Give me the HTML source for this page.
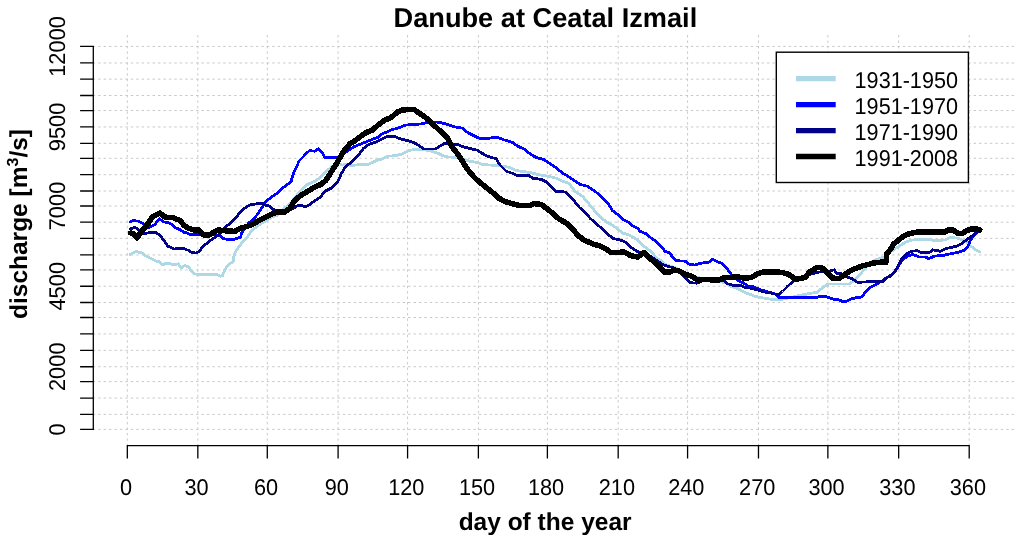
<!DOCTYPE html>
<html><head><meta charset="utf-8"><style>
html,body{margin:0;padding:0;background:#fff;}
svg{display:block;will-change:transform;}
.t{font-family:"Liberation Sans",sans-serif;font-size:22px;fill:#000;text-rendering:geometricPrecision;}
.b{font-family:"Liberation Sans",sans-serif;font-weight:bold;fill:#000;text-rendering:geometricPrecision;}
</style></head><body>
<svg width="1024" height="541" viewBox="0 0 1024 541">
<path d="M92.76 429.36H1015.5 M92.76 414.39H1015.5 M92.76 398.05H1015.5 M92.76 381.60H1015.5 M92.76 366.74H1015.5 M92.76 350.33H1015.5 M92.76 333.94H1015.5 M92.76 317.52H1015.5 M92.76 302.50H1015.5 M92.76 286.26H1015.5 M92.76 269.96H1015.5 M92.76 254.95H1015.5 M92.76 238.40H1015.5 M92.76 222.20H1015.5 M92.76 206.00H1015.5 M92.76 191.00H1015.5 M92.76 174.70H1015.5 M92.76 158.30H1015.5 M92.76 143.33H1015.5 M92.76 126.95H1015.5 M92.76 110.55H1015.5 M92.76 95.50H1015.5 M92.76 79.15H1015.5 M92.76 62.96H1015.5 M92.76 46.43H1015.5" stroke="#c8c8c8" stroke-width="1" stroke-dasharray="2.4 3.0374" fill="none"/>
<path d="M127.32 446.2V34.5 M197.83 446.2V34.5 M267.29 446.2V34.5 M338.09 446.2V34.5 M407.58 446.2V34.5 M478.38 446.2V34.5 M547.38 446.2V34.5 M618.18 446.2V34.5 M687.58 446.2V34.5 M758.48 446.2V34.5 M827.87 446.2V34.5 M898.67 446.2V34.5 M969.20 446.2V34.5" stroke="#c8c8c8" stroke-width="1" stroke-dasharray="2.4 3.05" fill="none"/>
<polyline points="130.0,254.4 136.2,251.5 141.9,252.9 145.0,255.6 151.2,258.5 156.2,261.0 160.0,261.9 162.5,265.0 166.2,263.1 171.2,264.0 174.4,265.0 178.1,263.8 181.2,268.1 184.4,265.6 188.1,266.6 191.2,270.6 195.0,274.0 200.0,274.8 217.5,274.8 220.0,276.2 222.5,275.6 225.0,269.4 228.8,264.4 233.1,261.9 233.8,256.2 236.0,251.2 239.5,245.8 242.9,241.7 247.0,237.6 250.0,232.8 252.5,230.0 258.8,225.0 265.0,221.2 271.2,217.5 277.5,215.0 287.5,205.6 290.0,203.8 300.0,191.2 306.2,185.0 315.0,181.2 320.0,177.5 325.0,172.5 330.0,168.1 337.5,163.1 342.5,165.0 347.5,164.4 351.2,165.6 360.0,164.5 367.5,164.4 372.5,162.5 376.2,160.6 382.5,158.8 387.5,156.2 396.2,155.6 402.5,153.8 408.8,150.6 415.0,149.4 421.2,149.4 430.0,150.6 437.5,153.1 445.0,156.6 455.0,157.5 463.8,159.4 470.0,161.2 477.5,162.5 482.5,164.4 488.8,165.0 498.8,165.6 510.0,167.5 516.2,170.6 530.0,172.5 537.5,174.4 547.5,176.2 556.2,178.1 562.5,181.2 568.8,183.1 575.0,191.2 582.5,196.2 588.8,203.8 595.0,211.2 601.2,217.5 606.2,221.9 611.2,224.4 617.5,228.8 622.5,233.1 627.5,234.4 633.8,237.5 637.5,240.0 642.5,245.0 647.5,248.8 652.5,252.5 655.9,257.8 660.0,260.0 666.2,265.0 675.0,267.5 685.0,273.0 695.0,277.0 705.0,279.0 718.0,281.0 726.2,283.2 731.1,286.6 737.9,288.6 743.8,292.0 750.0,294.4 755.0,296.2 763.8,298.1 772.5,299.4 780.0,299.4 785.0,298.8 795.0,296.5 803.0,294.7 817.6,292.2 820.5,289.3 826.4,284.9 829.3,283.9 849.8,283.9 852.7,281.5 856.6,277.6 860.5,273.7 865.0,268.8 872.5,261.2 880.0,258.1 883.8,257.5 895.0,248.8 900.0,245.6 906.2,241.9 912.5,240.0 927.5,239.4 935.0,240.6 945.0,240.0 950.0,237.5 957.5,238.1 965.0,241.2 969.0,244.1 971.9,247.0 975.8,249.9 979.6,251.8" fill="none" stroke="#add8e6" stroke-width="2.8" stroke-linejoin="round" stroke-linecap="round" shape-rendering="crispEdges"/>
<polyline points="130.6,221.9 132.5,220.6 138.8,221.2 143.1,223.8 148.8,227.5 155.0,224.4 159.4,218.8 163.8,221.9 170.0,223.1 175.0,227.5 180.0,229.7 183.4,232.1 187.5,233.1 190.3,234.5 193.7,234.5 205.0,235.0 215.0,235.0 219.6,235.5 222.4,238.2 227.8,239.6 233.3,239.6 237.4,238.2 240.8,236.9 241.5,232.8 244.9,228.7 248.8,223.1 252.5,220.0 257.5,214.4 262.5,206.9 265.0,202.5 270.0,198.1 277.5,193.1 282.5,188.1 287.5,184.4 291.2,181.2 292.5,176.2 295.0,170.0 297.5,165.0 298.8,161.2 303.8,156.2 309.4,150.6 315.0,151.2 318.1,148.8 322.5,153.1 325.0,157.5 337.5,157.5 343.0,154.0 348.8,150.0 355.0,146.2 360.0,144.4 366.2,141.9 372.5,139.4 378.8,136.9 381.2,134.4 391.2,130.0 397.5,128.1 406.2,125.0 416.2,124.4 422.5,123.8 426.2,122.5 435.0,121.9 440.0,122.5 447.5,124.4 455.0,126.9 462.5,128.1 467.5,132.5 472.5,135.0 478.8,138.1 488.0,138.3 497.5,137.2 502.5,139.4 512.5,142.5 517.5,146.2 523.8,148.8 530.0,153.8 536.2,157.5 543.8,159.4 550.0,163.8 557.5,168.8 562.5,173.1 570.0,177.5 580.0,184.4 587.5,186.2 595.0,191.2 600.0,195.5 605.0,200.0 608.8,204.4 612.5,210.6 617.5,214.4 622.5,219.4 628.8,222.5 632.5,225.6 637.5,228.1 640.0,231.2 646.2,233.8 651.2,238.1 656.2,241.5 661.2,246.5 665.0,251.2 669.5,252.9 672.5,256.8 676.4,260.7 686.1,261.2 689.1,264.2 694.9,265.1 698.8,263.7 704.7,262.7 708.6,262.2 712.5,259.3 717.4,261.7 722.3,263.7 727.1,268.6 732.0,275.4 737.9,280.3 743.8,283.2 747.7,286.1 753.8,286.9 761.2,290.0 770.0,292.5 776.2,294.4 778.8,297.5 795.0,297.6 816.6,297.6 819.5,296.1 825.4,296.3 828.3,297.6 833.2,299.1 839.1,300.0 843.9,302.0 847.9,300.5 850.8,299.1 856.6,297.6 861.5,297.1 866.4,291.2 870.3,287.3 876.2,284.4 882.0,281.0 885.9,278.1 891.8,274.6 895.7,270.7 899.6,263.9 902.5,260.0 907.5,256.2 912.5,254.4 918.8,256.9 925.8,257.1 928.7,258.6 934.4,256.2 944.0,255.2 950.8,253.8 958.5,252.3 964.2,250.4 967.1,248.0 969.0,244.1 970.0,240.8 972.9,236.9 976.7,233.1 979.5,230.5" fill="none" stroke="#0000ff" stroke-width="2.8" stroke-linejoin="round" stroke-linecap="round" shape-rendering="crispEdges"/>
<polyline points="130.6,228.8 135.0,227.5 138.8,230.0 143.8,233.8 150.0,232.5 155.0,232.2 160.0,235.0 165.0,242.0 167.5,246.0 173.8,249.0 180.0,248.5 184.1,248.8 188.9,250.5 191.6,252.5 196.2,253.0 200.0,251.2 202.6,246.4 207.3,243.0 211.4,239.6 215.5,236.9 219.6,234.1 225.1,227.6 229.2,223.9 233.3,220.1 237.4,215.7 240.0,212.5 246.2,206.9 250.0,205.0 256.2,203.8 262.5,203.1 265.0,205.0 270.0,206.2 272.5,209.4 280.0,211.0 290.0,209.5 292.5,208.8 297.5,205.6 301.2,205.0 305.0,206.9 310.0,204.4 315.0,200.6 320.0,197.5 325.0,191.2 332.5,187.5 338.8,180.0 341.2,173.8 345.0,167.5 350.0,163.1 356.2,157.5 360.0,153.0 363.8,148.1 368.8,144.4 376.2,141.9 381.2,139.4 386.2,136.9 393.8,136.2 400.0,138.8 407.5,140.6 413.8,142.5 420.0,146.2 423.8,149.0 435.0,149.0 438.8,146.9 443.8,143.8 450.0,143.8 457.5,144.5 463.8,146.9 470.0,148.5 477.5,150.3 482.5,153.5 488.0,156.5 496.2,158.8 500.0,165.0 506.2,171.2 513.8,173.8 517.5,175.6 528.8,175.6 532.5,178.1 541.2,179.4 546.2,181.9 551.2,186.2 556.2,192.0 561.2,191.2 566.2,192.5 572.5,198.8 580.0,208.1 585.0,211.9 590.0,218.1 596.2,223.8 603.8,230.0 608.8,235.0 613.8,238.8 618.8,239.4 625.0,241.9 628.8,245.0 632.5,248.5 637.5,251.5 642.5,253.5 650.0,255.9 655.9,259.8 661.7,263.7 666.6,266.1 673.4,267.6 680.0,273.0 686.1,278.8 690.0,282.7 696.9,283.2 705.0,280.0 715.0,279.0 724.2,281.2 727.1,283.7 733.0,285.2 740.8,285.6 745.7,287.6 750.0,288.1 757.5,290.0 763.8,291.9 771.2,293.1 778.5,295.0 782.5,291.5 787.5,286.5 792.5,281.6 796.0,280.6 805.0,276.0 815.6,272.7 821.5,271.7 829.3,271.2 834.2,269.8 837.1,273.7 841.0,273.7 846.9,277.1 852.7,279.0 857.6,282.5 862.5,282.0 883.0,281.5 885.9,278.1 890.0,276.2 895.0,271.2 900.0,262.5 902.5,257.5 907.5,253.1 912.5,251.2 917.5,250.6 921.2,252.5 929.6,252.3 932.5,249.9 937.3,250.4 940.2,251.3 945.0,248.9 950.8,247.5 956.5,246.1 960.4,244.6 963.3,242.2 967.1,239.3 971.9,236.0 975.8,233.1 977.7,231.6 980.5,230.5" fill="none" stroke="#00008b" stroke-width="2.8" stroke-linejoin="round" stroke-linecap="round" shape-rendering="crispEdges"/>
<polyline points="130.6,233.0 133.5,233.5 137.0,237.8 140.6,232.5 146.2,226.2 152.5,216.9 160.0,213.1 165.0,217.2 172.5,217.5 180.0,220.5 184.1,225.3 188.2,228.0 193.7,230.0 199.1,230.0 203.2,234.8 209.4,234.8 214.2,232.1 218.3,230.0 224.4,230.7 234.7,231.4 239.5,228.7 244.9,227.0 250.0,225.3 252.5,224.4 258.8,220.6 265.0,217.5 271.2,214.4 277.5,211.9 285.0,211.9 290.0,208.1 293.8,201.9 296.2,198.8 302.5,194.4 310.0,190.0 316.2,186.2 321.2,184.4 326.2,180.0 330.0,173.8 335.0,166.2 340.0,157.5 343.8,151.2 350.0,143.8 355.0,140.6 360.0,136.9 366.2,132.5 372.5,130.0 378.8,124.4 385.0,120.0 391.2,117.5 397.5,111.9 402.5,110.0 407.5,109.6 414.5,109.6 418.0,112.5 422.5,115.2 429.0,120.3 435.0,126.2 441.2,131.9 447.5,138.0 452.5,147.5 457.5,153.8 462.5,161.2 466.2,167.5 470.0,172.5 475.0,178.1 480.0,182.5 486.2,187.5 492.5,192.5 498.8,198.1 505.0,201.6 512.5,203.8 520.0,205.6 530.0,205.6 533.8,203.6 541.2,204.4 546.2,208.1 552.5,213.1 558.8,218.8 567.5,223.8 572.5,228.8 577.5,235.0 583.8,240.0 592.5,243.8 601.1,246.4 606.6,249.4 611.1,252.7 617.7,252.7 623.3,251.6 627.7,253.9 630.0,255.5 637.5,257.0 643.8,252.5 648.8,257.5 655.0,262.5 659.8,267.6 664.6,272.0 669.5,272.0 674.4,270.0 679.3,271.0 684.2,273.9 691.0,275.9 695.9,278.8 698.8,280.3 703.7,279.3 710.5,279.8 718.4,280.3 724.2,277.3 731.1,277.3 737.9,276.9 742.8,277.8 747.5,278.1 752.5,276.9 757.5,273.8 763.8,271.9 776.2,271.9 782.5,272.5 788.8,274.4 793.8,278.1 797.5,279.0 804.9,277.6 809.8,271.7 817.6,267.3 822.5,268.3 827.3,272.7 832.2,278.1 839.1,278.6 843.0,275.6 848.8,271.7 854.7,268.8 862.5,265.9 868.4,264.4 874.2,262.9 882.0,262.0 886.0,262.4 886.9,253.8 890.0,250.0 893.8,243.8 898.8,240.0 902.5,236.9 908.8,233.8 917.5,231.9 945.0,232.1 947.9,230.2 953.7,230.2 957.5,233.1 962.3,233.6 966.2,230.7 971.0,229.2 977.7,229.2 979.8,230.0" fill="none" stroke="#000" stroke-width="5.5" stroke-linejoin="round" stroke-linecap="round" shape-rendering="crispEdges"/>
<path d="M93.3 429.96V45.83 M80.1 429.36H93.3 M80.1 414.39H93.3 M80.1 398.05H93.3 M80.1 381.60H93.3 M80.1 366.74H93.3 M80.1 350.33H93.3 M80.1 333.94H93.3 M80.1 317.52H93.3 M80.1 302.50H93.3 M80.1 286.26H93.3 M80.1 269.96H93.3 M80.1 254.95H93.3 M80.1 238.40H93.3 M80.1 222.20H93.3 M80.1 206.00H93.3 M80.1 191.00H93.3 M80.1 174.70H93.3 M80.1 158.30H93.3 M80.1 143.33H93.3 M80.1 126.95H93.3 M80.1 110.55H93.3 M80.1 95.50H93.3 M80.1 79.15H93.3 M80.1 62.96H93.3 M80.1 46.43H93.3 M126.72 445.6H969.80 M127.32 445.6V458.5 M197.83 445.6V458.5 M267.29 445.6V458.5 M338.09 445.6V458.5 M407.58 445.6V458.5 M478.38 445.6V458.5 M547.38 445.6V458.5 M618.18 445.6V458.5 M687.58 445.6V458.5 M758.48 445.6V458.5 M827.87 445.6V458.5 M898.67 445.6V458.5 M969.20 445.6V458.5" stroke="#000" stroke-width="1.3" fill="none" stroke-linecap="butt"/>
<text transform="translate(126.02 494.6) scale(0.953 1)" text-anchor="middle" class="t" style="font-size:22.8px">0</text>
<text transform="translate(196.53 494.6) scale(0.953 1)" text-anchor="middle" class="t" style="font-size:22.8px">30</text>
<text transform="translate(265.99 494.6) scale(0.953 1)" text-anchor="middle" class="t" style="font-size:22.8px">60</text>
<text transform="translate(336.79 494.6) scale(0.953 1)" text-anchor="middle" class="t" style="font-size:22.8px">90</text>
<text transform="translate(406.28 494.6) scale(0.953 1)" text-anchor="middle" class="t" style="font-size:22.8px">120</text>
<text transform="translate(477.08 494.6) scale(0.953 1)" text-anchor="middle" class="t" style="font-size:22.8px">150</text>
<text transform="translate(546.08 494.6) scale(0.953 1)" text-anchor="middle" class="t" style="font-size:22.8px">180</text>
<text transform="translate(616.88 494.6) scale(0.953 1)" text-anchor="middle" class="t" style="font-size:22.8px">210</text>
<text transform="translate(686.28 494.6) scale(0.953 1)" text-anchor="middle" class="t" style="font-size:22.8px">240</text>
<text transform="translate(757.18 494.6) scale(0.953 1)" text-anchor="middle" class="t" style="font-size:22.8px">270</text>
<text transform="translate(826.57 494.6) scale(0.953 1)" text-anchor="middle" class="t" style="font-size:22.8px">300</text>
<text transform="translate(897.37 494.6) scale(0.953 1)" text-anchor="middle" class="t" style="font-size:22.8px">330</text>
<text transform="translate(967.90 494.6) scale(0.953 1)" text-anchor="middle" class="t" style="font-size:22.8px">360</text>
<text transform="translate(65.4 429.36) rotate(-90) scale(0.96 1)" text-anchor="middle" class="t" style="font-size:22.8px">0</text>
<text transform="translate(65.4 366.74) rotate(-90) scale(0.96 1)" text-anchor="middle" class="t" style="font-size:22.8px">2000</text>
<text transform="translate(65.4 286.26) rotate(-90) scale(0.96 1)" text-anchor="middle" class="t" style="font-size:22.8px">4500</text>
<text transform="translate(65.4 206.00) rotate(-90) scale(0.96 1)" text-anchor="middle" class="t" style="font-size:22.8px">7000</text>
<text transform="translate(65.4 126.95) rotate(-90) scale(0.96 1)" text-anchor="middle" class="t" style="font-size:22.8px">9500</text>
<text transform="translate(65.4 46.43) rotate(-90) scale(0.96 1)" text-anchor="middle" class="t" style="font-size:22.8px">12000</text>
<text x="545.4" y="26.6" text-anchor="middle" class="b" font-size="27.2">Danube at Ceatal Izmail</text>
<text x="545.1" y="530" text-anchor="middle" class="b" font-size="24.5">day of the year</text>
<text transform="translate(27.3 224) rotate(-90)" text-anchor="middle" class="b" font-size="24.5">discharge [m<tspan font-size="16" dy="-9.4">3</tspan><tspan dy="9.4">/s]</tspan></text>
<rect x="776.3" y="52.2" width="192.1" height="130.3" fill="#fff" stroke="#000" stroke-width="1.4"/>
<line x1="796" x2="835.7" y1="78.65" y2="78.65" stroke="#add8e6" stroke-width="5.3"/>
<text transform="translate(854.6 87.65) scale(0.948 1)" class="t" style="font-size:22.8px">1931-1950</text>
<line x1="796" x2="835.7" y1="104.60" y2="104.60" stroke="#0000ff" stroke-width="5.3"/>
<text transform="translate(854.6 113.60) scale(0.948 1)" class="t" style="font-size:22.8px">1951-1970</text>
<line x1="796" x2="835.7" y1="130.55" y2="130.55" stroke="#00008b" stroke-width="5.3"/>
<text transform="translate(854.6 139.55) scale(0.948 1)" class="t" style="font-size:22.8px">1971-1990</text>
<line x1="796" x2="835.7" y1="156.50" y2="156.50" stroke="#000000" stroke-width="5.3"/>
<text transform="translate(854.6 165.50) scale(0.948 1)" class="t" style="font-size:22.8px">1991-2008</text>
</svg>
</body></html>
